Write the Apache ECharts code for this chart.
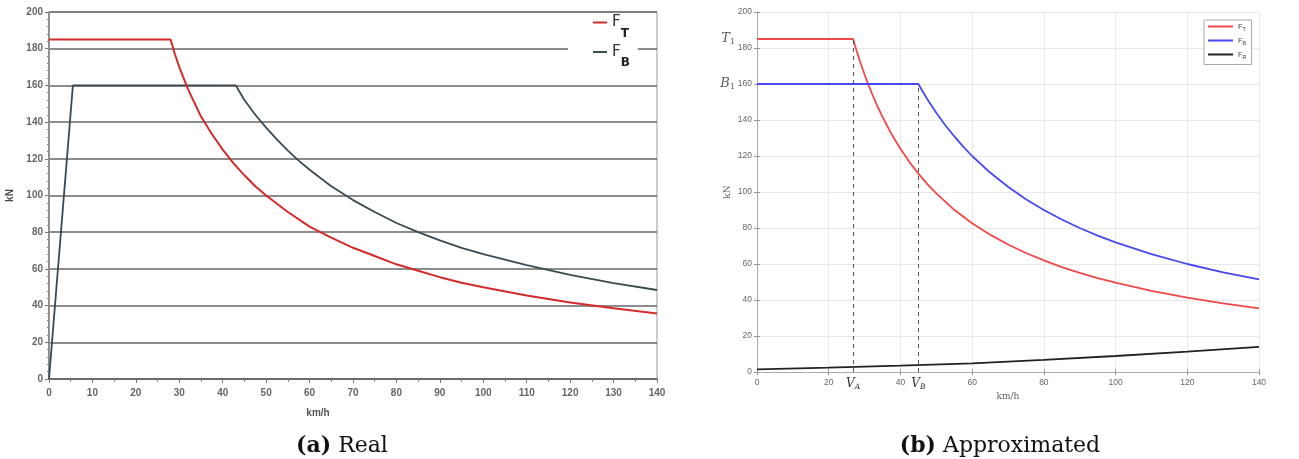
<!DOCTYPE html>
<html><head><meta charset="utf-8">
<script src="https://cdn.jsdelivr.net/npm/echarts@6/dist/echarts.min.js"></script>
<style>html,body{margin:0;padding:0;background:#fff}#c{width:1299px;height:459px}</style>
</head><body><div id="c"></div>
<script>
// ---- (a) Real : [km/h, kN]
const realFT = [[0,185],[28,185],[29,177],[30,170],[31,164],[32,158],[33.5,150.5],[35,143],[37.5,133.5],[40,125],[42.5,117.5],[45,111],[47.5,105],[50,100],[55,91],[60,83],[65,77],[70,71.5],[75,67],[80,62.5],[85,59],[90,55.5],[95,52.5],[100,50],[110,45.5],[120,41.7],[130,38.5],[140,35.7]];
const realFB = [[0,0],[5.5,160],[43,160],[44,156],[45,152],[47.5,144],[50,137],[52.5,130.5],[55,124.5],[57.5,119],[60,114],[65,105],[70,97.5],[75,91],[80,85],[85,80],[90,75.5],[95,71.5],[100,68],[110,62],[120,56.7],[130,52.3],[140,48.5]];
// ---- (b) Approximated : [km/h, kN]
const approxFT = [[0,185],[26.8,185],[28,177],[29,171],[30,165.3],[31,160],[32,155],[33.5,148],[35,141.7],[37.5,132.2],[40,124],[42.5,116.7],[45,110.2],[47.5,104.4],[50,99.2],[55,90.1],[60,82.6],[65,76.3],[70,70.8],[75,66.1],[80,62],[85,58.3],[90,55.1],[95,52.2],[100,49.6],[110,45.1],[120,41.3],[130,38.1],[140,35.4]];
const approxFB = [[0,160],[45,160],[46,156.5],[47,153.2],[48,150],[50,144],[52.5,137.1],[55,131],[57.5,125.2],[60,120],[65,110.8],[70,102.9],[75,96],[80,90],[85,84.7],[90,80],[95,75.8],[100,72],[110,65.5],[120,60],[130,55.4],[140,51.4]];
const approxFR = [[0,1.5],[20,2.4],[40,3.5],[60,4.8],[80,6.7],[100,8.9],[120,11.3],[140,14]];
const vA = 26.8, vB = 45, T1 = 185, B1 = 160;
const levelMarks = [[0, T1, 'T'], [0, B1, 'B']];
const captions = [['(a)', 'Real'], ['(b)', 'Approximated']];

const chart = echarts.init(document.getElementById('c'), null, {renderer:'canvas'});
const serif = 'DejaVu Serif';
const subNames = {aFT:'T', aFB:'B', bFT:'T', bFB:'B', bFR:'R'};

const option = {
  animation: false,
  backgroundColor: '#fff',
  title: [
    {text: '{b|' + captions[0][0] + '} ' + captions[0][1], left: 337, top: 430, textAlign: 'center',
     textStyle: {fontFamily: serif, fontSize: 22, fontWeight: 'normal', color: '#111',
       rich: {b: {fontFamily: serif, fontSize: 22, fontWeight: 'bold', color: '#111'}}}},
    {text: '{b|' + captions[1][0] + '} ' + captions[1][1], left: 995, top: 430, textAlign: 'center',
     textStyle: {fontFamily: serif, fontSize: 22, fontWeight: 'normal', color: '#111',
       rich: {b: {fontFamily: serif, fontSize: 22, fontWeight: 'bold', color: '#111'}}}}
  ],
  legend: [
    {data: ['aFT', 'aFB'], left: 568, top: 15, orient: 'vertical', icon: 'rect', itemWidth: 14, itemHeight: 2,
     itemGap: 5, padding: [0, 8, 0, 25], backgroundColor: '#fff', z: 4,
     formatter: n => '{f|F}{s|' + subNames[n] + '}',
     textStyle: {rich: {
       f: {fontSize: 15, color: '#333', fontFamily: 'DejaVu Sans'},
       s: {fontSize: 12, fontWeight: 'bold', color: '#222', fontFamily: 'DejaVu Sans', padding: [22, 0, 0, 0]}}}},
    {data: ['bFT', 'bFB', 'bFR'], left: 1204, top: 20, orient: 'vertical', icon: 'rect', itemWidth: 25, itemHeight: 2,
     itemGap: 4.5, padding: [2.5, 5, 4.5, 4], backgroundColor: '#fff', borderColor: '#aaa', borderWidth: 1,
     formatter: n => '{f|F}{s|' + subNames[n] + '}',
     textStyle: {rich: {
       f: {fontSize: 7.5, color: '#444', fontFamily: 'Liberation Sans'},
       s: {fontSize: 5.5, color: '#444', fontFamily: 'Liberation Sans', padding: [5, 0, 0, 0]}}}}
  ],
  grid: [
    {left: 49, right: 642, top: 12, bottom: 80, show: true, borderColor: '#999', borderWidth: 1},
    {left: 757, right: 40, top: 12, bottom: 87}
  ],
  xAxis: [
    {gridIndex: 0, type: 'value', min: 0, max: 140, interval: 10,
     axisLine: {lineStyle: {color: '#777', width: 1.5}},
     axisTick: {length: 4, lineStyle: {color: '#777'}},
     minorTick: {show: true, splitNumber: 2, length: 3, lineStyle: {color: '#888'}},
     axisLabel: {margin: 9, color: '#666', fontSize: 10, fontWeight: 'bold', fontFamily: 'Liberation Sans'},
     splitLine: {show: false},
     name: 'km/h', nameLocation: 'middle', nameGap: 29,
     nameTextStyle: {color: '#555', fontSize: 10, fontWeight: 'bold', fontFamily: 'Liberation Sans', padding: [0, 70, 0, 0]}},
    {gridIndex: 0, type: 'value', position: 'top', min: 0, max: 140, z: 10,
     axisLine: {show: true, lineStyle: {color: '#666', width: 1.5}}, axisTick: {show: false}, axisLabel: {show: false}, splitLine: {show: false}},
    {gridIndex: 1, type: 'value', min: 0, max: 140, interval: 20,
     axisLine: {lineStyle: {color: '#999', width: 1}},
     axisTick: {inside: true, length: 3, lineStyle: {color: '#999'}},
     axisLabel: {margin: 6, color: '#666', fontSize: 8.5, fontFamily: 'Liberation Sans'},
     splitLine: {show: true, lineStyle: {color: '#e8e8e8', width: 1}},
     name: 'km/h', nameLocation: 'middle', nameGap: 17,
     nameTextStyle: {color: '#666', fontSize: 9, fontFamily: serif}},
    {gridIndex: 1, type: 'value', position: 'top', min: 0, max: 140, interval: 20,
     axisLine: {show: true, lineStyle: {color: '#aaa', width: 1}},
     axisTick: {show: true, inside: true, length: 3, lineStyle: {color: '#999'}},
     axisLabel: {show: false}, splitLine: {show: false}}
  ],
  yAxis: [
    {gridIndex: 0, type: 'value', min: 0, max: 200, interval: 20,
     axisLine: {show: true, lineStyle: {color: '#777', width: 1.5}},
     axisTick: {show: true, length: 4, lineStyle: {color: '#777'}},
     minorTick: {show: true, splitNumber: 5, length: 2, lineStyle: {color: '#888'}},
     axisLabel: {margin: 6, color: '#666', fontSize: 10, fontWeight: 'bold', fontFamily: 'Liberation Sans'},
     splitLine: {show: true, lineStyle: {color: '#666', width: 1.6}},
     name: 'kN', nameLocation: 'middle', nameGap: 34,
     nameTextStyle: {color: '#444', fontSize: 10, fontWeight: 'bold', fontFamily: 'Liberation Sans'}},
    {gridIndex: 0, type: 'value', position: 'right', min: 0, max: 200,
     axisLine: {show: true, lineStyle: {color: '#999', width: 1}}, axisTick: {show: false}, axisLabel: {show: false}, splitLine: {show: false}},
    {gridIndex: 1, type: 'value', min: 0, max: 200, interval: 20,
     axisLine: {show: true, lineStyle: {color: '#999', width: 1}},
     axisTick: {show: true, inside: true, length: 3, lineStyle: {color: '#999'}},
     axisLabel: {margin: 5, color: '#666', fontSize: 8.5, fontFamily: 'Liberation Sans'},
     splitLine: {show: true, lineStyle: {color: '#e8e8e8', width: 1}},
     name: 'kN', nameLocation: 'middle', nameGap: 25,
     nameTextStyle: {color: '#666', fontSize: 9, fontFamily: serif}},
    {gridIndex: 1, type: 'value', position: 'right', min: 0, max: 200, interval: 20,
     axisLine: {show: true, lineStyle: {color: '#aaa', width: 1}},
     axisTick: {show: true, inside: true, length: 3, lineStyle: {color: '#999'}},
     axisLabel: {show: false}, splitLine: {show: false}}
  ],
  series: [
    {type: 'line', name: 'aFT', xAxisIndex: 0, yAxisIndex: 0, data: realFT, showSymbol: false, symbol: 'none',
     color: '#d42a2a', lineStyle: {color: '#d42a2a', width: 2}, z: 3},
    {type: 'line', name: 'aFB', xAxisIndex: 0, yAxisIndex: 0, data: realFB, showSymbol: false, symbol: 'none',
     color: '#3b4a52', lineStyle: {color: '#3b4a52', width: 1.8}, z: 2},
    {type: 'line', name: 'bFT', xAxisIndex: 2, yAxisIndex: 2, data: approxFT, showSymbol: false, symbol: 'none',
     color: '#f24848', lineStyle: {color: '#f24848', width: 1.8},
     markLine: {silent: true, symbol: ['none', 'none'], animation: false,
       lineStyle: {type: [4, 4], color: '#555', width: 1},
       label: {show: true, position: 'start', distance: 4, formatter: '{v|V}{s|A}',
         rich: {v: {fontFamily: serif, fontStyle: 'italic', fontSize: 12, color: '#333'},
                s: {fontFamily: serif, fontStyle: 'italic', fontSize: 7.5, color: '#333', padding: [7, 0, 0, 0]}}},
       data: [[{coord: [vA, 0]}, {coord: [vA, T1]}]]}},
    {type: 'line', name: 'bFB', xAxisIndex: 2, yAxisIndex: 2, data: approxFB, showSymbol: false, symbol: 'none',
     color: '#4848f2', lineStyle: {color: '#4848f2', width: 1.8},
     markLine: {silent: true, symbol: ['none', 'none'], animation: false,
       lineStyle: {type: [4, 4], color: '#555', width: 1},
       label: {show: true, position: 'start', distance: 4, formatter: '{v|V}{s|B}',
         rich: {v: {fontFamily: serif, fontStyle: 'italic', fontSize: 12, color: '#333'},
                s: {fontFamily: serif, fontStyle: 'italic', fontSize: 7.5, color: '#333', padding: [7, 0, 0, 0]}}},
       data: [[{coord: [vB, 0]}, {coord: [vB, B1]}]]}},
    {type: 'line', name: 'bFR', xAxisIndex: 2, yAxisIndex: 2, data: approxFR, showSymbol: false, symbol: 'none',
     color: '#222', lineStyle: {color: '#222', width: 1.8}},
    {type: 'scatter', name: 'levels', xAxisIndex: 2, yAxisIndex: 2, data: levelMarks, symbolSize: 0, silent: true,
     clip: false,
     label: {show: true, position: 'left', distance: 22, formatter: p => '{v|' + p.data[2] + '}{s|1}',
       rich: {v: {fontFamily: serif, fontStyle: 'italic', fontSize: 13, color: '#333'},
              s: {fontFamily: serif, fontSize: 8, color: '#333', padding: [6, 0, 0, 0]}}}}
  ]
};
chart.setOption(option);
</script></body></html>
